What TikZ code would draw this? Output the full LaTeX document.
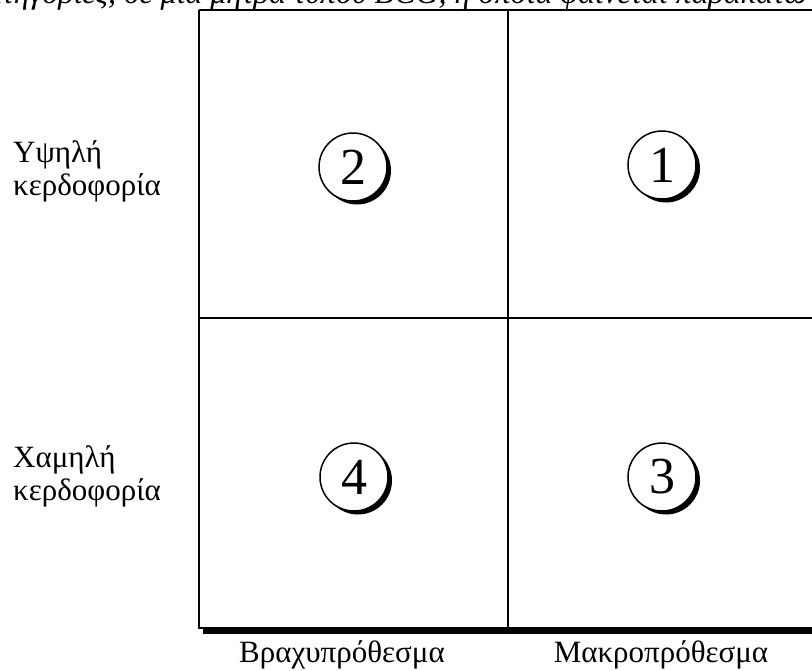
\documentclass[tikz,border=0pt]{standalone}
\usepackage{fontspec}
\setmainfont{Liberation Serif}
\usetikzlibrary{shadows}
\begin{document}
\begin{tikzpicture}[x=1pt,y=-1pt,
  gridline/.style={line width=1.6pt,black},
  numcirc/.style={circle,draw,line width=1.5pt,fill=white,minimum size=68pt,inner sep=0pt,
    font=\fontsize{52}{54}\selectfont,
    drop shadow={shadow xshift=4pt,shadow yshift=-3.5pt,fill=black,opacity=1}},
  sidelabel/.style={anchor=base west,align=left,inner sep=0pt,font=\fontsize{31}{33}\selectfont},
  bottomlabel/.style={anchor=base,inner sep=0pt,font=\fontsize{31}{33}\selectfont},
  toptext/.style={anchor=base west,inner sep=0pt,font=\fontsize{32}{34}\selectfont\itshape}]
\useasboundingbox (0,0) rectangle (812,670);
\clip (0,0) rectangle (812,670);
\fill[white] (0,0) rectangle (812,670);
% clipped top line of running text
\node[toptext] (top) at (-30,3) {κατηγορίες, σε μια μήτρα τύπου BCG, η οποία φαίνεται παρακάτω};
% matrix frame with shadow
\fill[black] (203,628) rectangle (830,634);
\draw[gridline] (199,10) -- (199,628) -- (830,628);
\draw[gridline,line width=2pt] (199,10) -- (830,10);
\draw[gridline] (508,10) -- (508,628);
\draw[gridline] (199,318) -- (830,318);
% quadrant numbers
\node[numcirc] (n2) at (353,167) {2};
\node[numcirc] (n1) at (662,165) {1};
\node[numcirc] (n4) at (354,477) {4};
\node[numcirc] (n3) at (662,477) {3};
% axis labels
\node[sidelabel] (hi) at (13,195) {Υψηλή\\κερδοφορία};
\node[sidelabel] (lo) at (13,500) {Χαμηλή\\κερδοφορία};
\node[bottomlabel] (short) at (342,662) {Βραχυπρόθεσμα};
\node[bottomlabel] (long) at (661,662) {Μακροπρόθεσμα};
\end{tikzpicture}
\end{document}
